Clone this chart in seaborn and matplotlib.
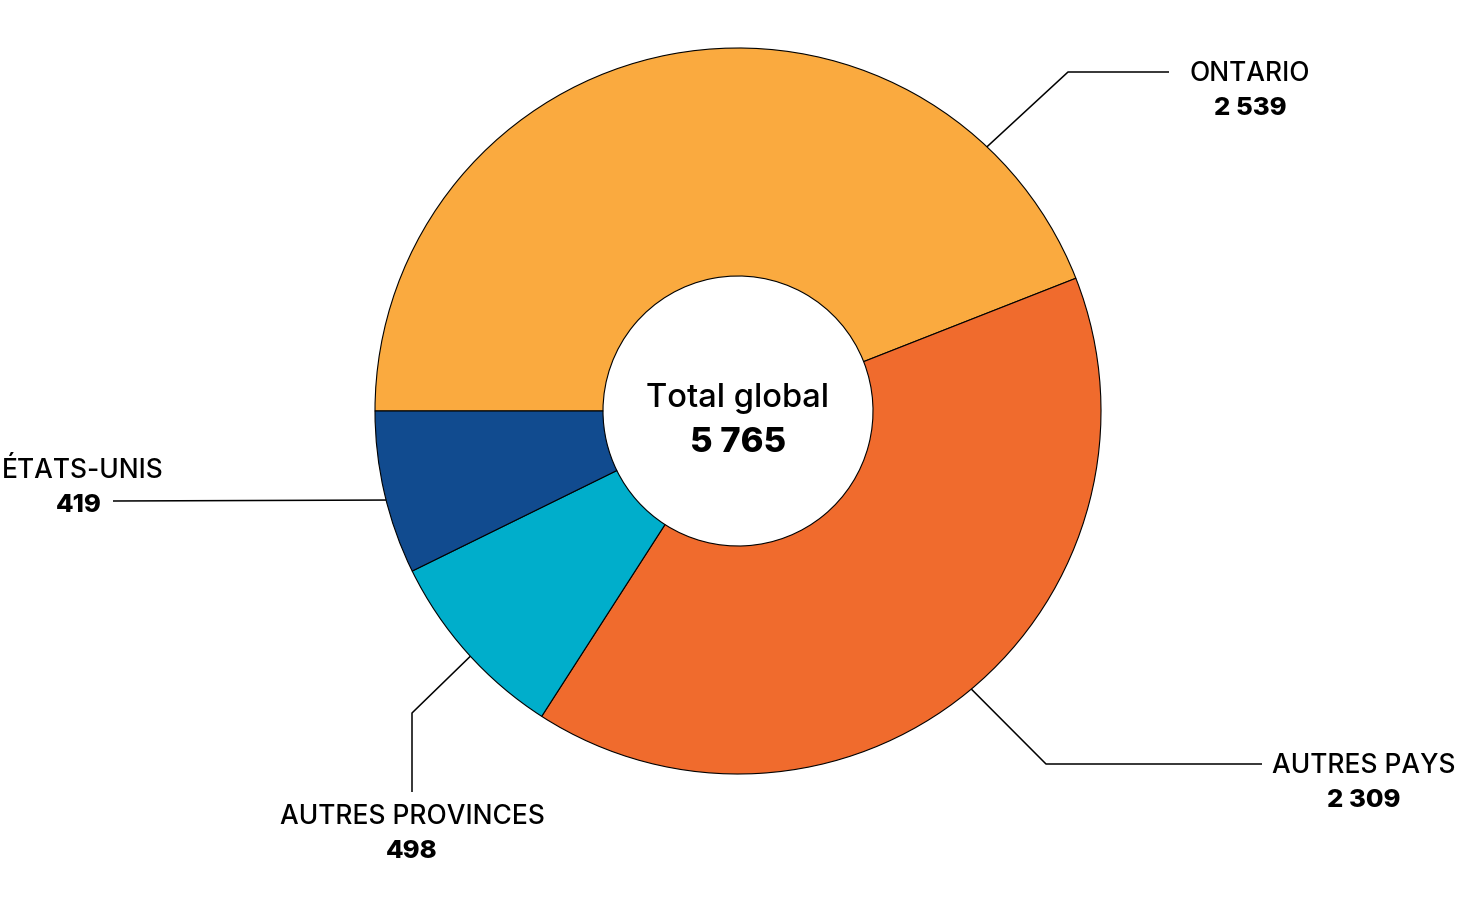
import numpy as np
import matplotlib
matplotlib.use("Agg")
import matplotlib.pyplot as plt
import seaborn as sns

# donnees
regions = ["ONTARIO", "AUTRES PAYS", "AUTRES PROVINCES", "ÉTATS-UNIS"]
effectifs = [2539, 2309, 498, 419]
couleurs = ["#FAAA3F", "#F06B2D", "#00AECB", "#114B8F"]
titre_centre = "Total global"

sns.set_theme(style="white")
plt.rcParams["font.family"] = ["Inter", "DejaVu Sans"]
plt.rcParams["text.color"] = "black"

W, H = 1459, 907
fig = plt.figure(figsize=(W / 100, H / 100), dpi=100)
ax = fig.add_axes([0, 0, 1, 1])
ax.set_aspect("equal")
ax.axis("off")

cx, cy = 738, 411
r_ext, r_int = 363, 135

# ylim inverse -> on dessine dans le sens trigo pour obtenir le sens horaire a l'ecran
ax.pie(effectifs, colors=couleurs, startangle=180, counterclock=True,
       center=(cx, cy), radius=r_ext,
       wedgeprops=dict(width=r_ext - r_int, edgecolor="black", linewidth=0.8))
ax.set_xlim(0, W)
ax.set_ylim(H, 0)


def fmt(v):
    return f"{v:,}".replace(",", " ")


ax.text(cx, 407, titre_centre, ha="center", va="baseline", fontsize=23.5,
        fontweight="medium")
ax.text(cx, 452, fmt(sum(effectifs)), ha="center", va="baseline",
        fontsize=25, fontweight="heavy")

# etiquettes : angle d'ancrage sur le bord, points du trait, position du texte
ancrages = [46.7, -50.0, -137.5, -165.8]
traits = [[(1068, 72), (1169, 72)],
          [(1046, 764), (1262, 764)],
          [(412, 713), (412, 792)],
          [(113, 501)]]
pos_texte = [(1250, 81), (1364, 773), (412, 824), (79, 478)]

for nom, val, ang, pts, (tx, ty) in zip(regions, effectifs, ancrages, traits, pos_texte):
    a = np.deg2rad(ang)
    x0 = cx + r_ext * np.cos(a)
    y0 = cy - r_ext * np.sin(a)
    xs = [x0] + [p[0] for p in pts]
    ys = [y0] + [p[1] for p in pts]
    ax.plot(xs, ys, color="black", linewidth=1.1, solid_capstyle="butt")
    if tx < 100:
        # colle au bord gauche comme dans l'original
        ax.text(2, ty, nom, ha="left", va="baseline", fontsize=19,
                fontweight="medium")
    else:
        ax.text(tx, ty, nom, ha="center", va="baseline", fontsize=19,
                fontweight="medium")
    ax.text(tx, ty + 34, fmt(val), ha="center", va="baseline",
            fontsize=18.5, fontweight="heavy")

fig.savefig("out.png", dpi=100, facecolor="white")
